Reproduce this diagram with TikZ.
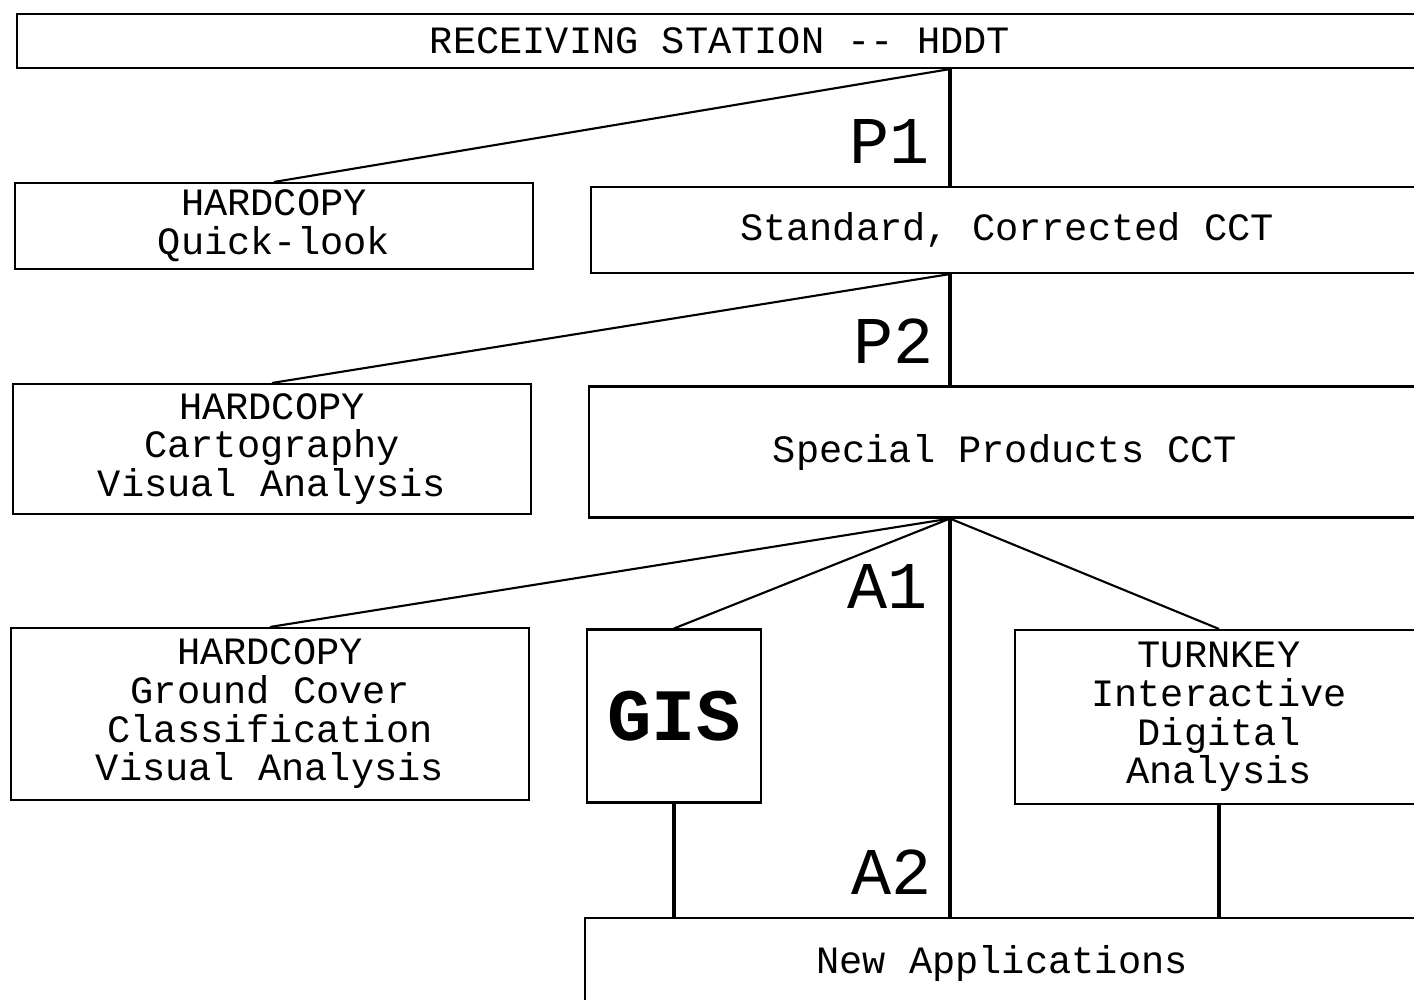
\documentclass[tikz,border=0pt]{standalone}
\usepackage{fontspec}
\setmonofont{Liberation Mono}
\usepackage{tikz}
\usetikzlibrary{positioning}

\begin{document}
\begin{tikzpicture}[
          x=0.01cm, y=-0.01cm,
          box/.style={draw, line width=0.6pt, inner sep=0pt, align=center,
                      font=\ttfamily\fontsize{11}{11}\selectfont},
          size/.style 2 args={minimum width=#1*0.01cm, minimum height=#2*0.01cm},
          stage/.style={anchor=east, inner sep=0pt,
                        font=\ttfamily\fontsize{19}{19}\selectfont},
          link/.style={line width=0.6pt},
          trunk/.style={line width=1.3pt}
        ]
        \clip (0,0) rectangle (1414,999);
        \coordinate (spine) at (950,0);
        \node[box, size={1406}{54}] (station) at (720,41) {RECEIVING STATION -{}- HDDT};
        \node[box, size={518}{86}] (quick) at (274,226) {HARDCOPY\\Quick-look};
        \node[box, size={832}{86}] (std) at (1007,230) {Standard, Corrected CCT};
        \node[box, size={518}{130}] (carto) at (272,449) {HARDCOPY\\Cartography\\Visual Analysis};
        \node[box, size={832}{131}] (special) at (1005,452) {Special Products CCT};
        \node[box, size={518}{172}] (ground) at (270,714) {HARDCOPY\\Ground Cover\\Classification\\Visual Analysis};
        \node[box, size={174}{173}, font=\ttfamily\bfseries\fontsize{21}{21}\selectfont] (gis) at (674,716) {GIS};
        \node[box, size={408}{174}] (turnkey) at (1219,717) {TURNKEY\\Interactive\\Digital\\Analysis};
        \node[box, size={834}{90}] (newapp) at (1002,963) {New Applications};
        \draw[trunk] (spine |- station.south) -- (spine |- std.north);
        \draw[link] (spine |- station.south) -- (quick.north);
        \draw[trunk] (spine |- std.south) -- (spine |- special.north);
        \draw[link] (spine |- std.south) -- (carto.north);
        \draw[trunk] (spine |- special.south) -- (spine |- newapp.north);
        \draw[link] (spine |- special.south) -- (ground.north);
        \draw[link] (spine |- special.south) -- (gis.north);
        \draw[link] (spine |- special.south) -- (turnkey.north);
        \draw[trunk] (gis.south) -- (gis.south |- newapp.north);
        \draw[trunk] (turnkey.south) -- (turnkey.south |- newapp.north);
        \node[stage] (p1) at (930,141) {P1};
        \node[stage] (p2) at (934,341) {P2};
        \node[stage] (a1) at (928,586) {A1};
        \node[stage] (a2) at (932,872) {A2};
      \end{tikzpicture}
\end{document}
